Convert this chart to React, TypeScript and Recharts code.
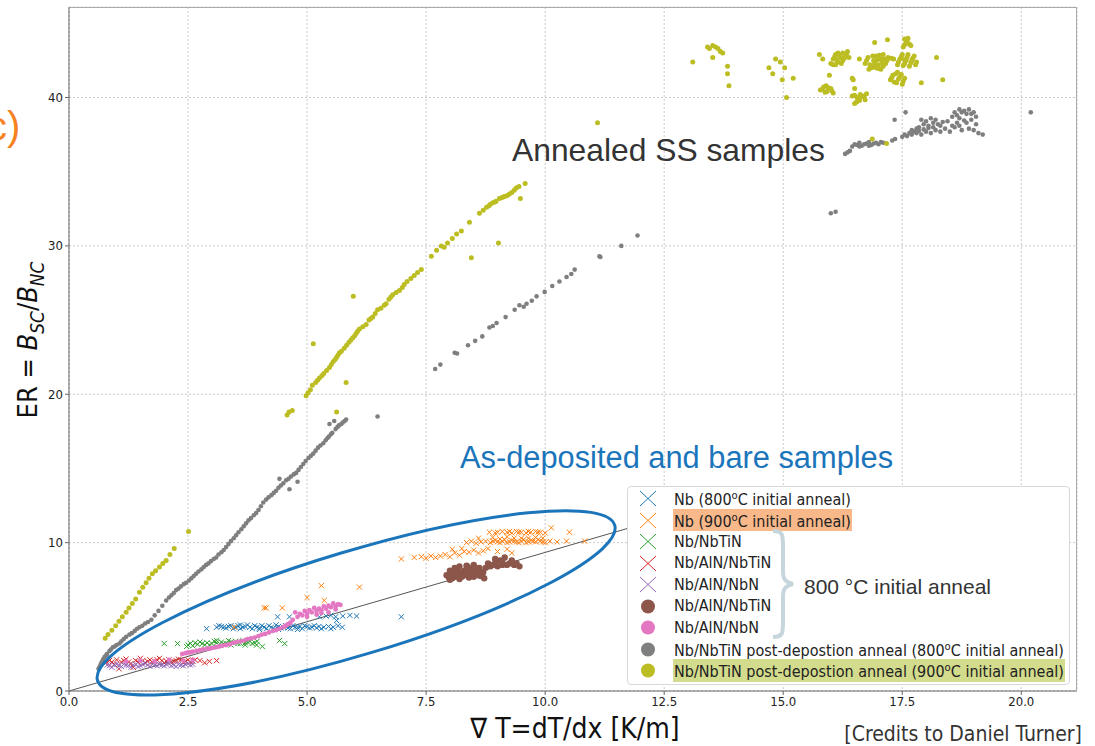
import {
  ScatterChart,
  Scatter,
  XAxis,
  YAxis,
  CartesianGrid,
  ReferenceLine,
} from 'recharts'

type Pt = [number, number]

// values (x = dT/dx, y = ER)
const nb800: Pt[] = [
  [2.89, 4.2], [3.1, 4.3], [3.15, 4.4], [3.2, 4.35], [3.25, 4.3], [3.3, 4.25], [3.35, 4.35], [3.4, 4.4],
  [3.45, 4.2], [3.5, 4.3], [3.55, 4.4], [3.6, 4.2], [3.6, 4.45], [3.65, 4.3], [3.7, 4.35], [3.75, 4.45],
  [3.8, 4.3], [3.85, 4.2], [3.9, 4.4], [3.95, 4.3], [4.0, 4.25], [4.0, 4.15], [4.05, 4.4], [4.1, 4.3],
  [4.15, 4.2], [4.2, 4.4], [4.25, 4.3], [4.3, 4.2], [4.35, 4.45], [4.4, 4.35], [4.4, 4.15], [4.45, 4.25],
  [4.5, 4.3], [4.55, 4.4], [4.6, 4.25], [4.65, 4.2], [4.7, 4.4], [4.75, 4.3], [4.8, 4.3], [4.8, 4.15],
  [4.85, 4.35], [4.9, 4.2], [4.95, 4.4], [5.0, 4.35], [5.05, 4.25], [5.1, 4.3], [5.15, 4.4], [5.2, 4.25],
  [5.25, 4.35], [5.3, 4.2], [5.35, 4.3], [5.45, 4.35], [5.5, 4.2], [5.55, 4.3], [5.65, 4.4],
  [5.62, 4.75], [5.74, 4.3], [4.38, 5.0], [4.63, 5.0], [5.26, 5.0], [5.4, 5.05], [5.5, 5.1], [5.6, 5.0],
  [5.75, 5.05], [5.9, 5.1], [6.04, 5.05], [6.98, 5.0],
]
const nb900: Pt[] = [
  [8.83, 10.7], [8.95, 10.65], [9.0, 10.7], [9.1, 10.75], [9.2, 10.7], [9.25, 10.75], [9.3, 10.65],
  [9.4, 10.75], [9.45, 10.7], [9.5, 10.7], [9.6, 10.65], [9.65, 10.75], [9.7, 10.7], [9.8, 10.75],
  [9.85, 10.7], [9.9, 10.7], [10.0, 10.65], [10.13, 11.0], [10.51, 10.7],
  [8.35, 10.0], [8.45, 10.1], [8.55, 9.95], [8.65, 10.05], [8.75, 10.1], [8.85, 10.0], [8.9, 10.1],
  [8.95, 10.15], [9.0, 10.05], [9.05, 10.0], [9.1, 10.1], [9.15, 10.2], [9.2, 10.0], [9.25, 10.05],
  [9.3, 10.15], [9.35, 10.1], [9.4, 10.05], [9.45, 10.0], [9.5, 10.1], [9.55, 10.2], [9.6, 10.0],
  [9.65, 10.05], [9.7, 10.15], [9.75, 10.1], [9.8, 10.05], [9.85, 10.2], [9.9, 10.1], [9.95, 10.05],
  [10.0, 10.0], [10.1, 10.1], [10.25, 10.05], [10.45, 10.1], [10.83, 10.1],
  [8.6, 10.3], [8.9, 10.35], [9.05, 10.25], [9.2, 10.4], [9.35, 10.3], [9.5, 10.3], [9.65, 10.3],
  [9.8, 10.35], [9.95, 10.3],
  [6.98, 8.9], [7.25, 9.0], [7.4, 9.05], [7.5, 8.95], [7.6, 9.1], [7.7, 9.0], [7.8, 9.1], [7.9, 9.2],
  [8.0, 9.05], [8.05, 9.55], [8.1, 9.3], [8.2, 9.15], [8.25, 9.6], [8.3, 9.4], [8.4, 9.35], [8.5, 9.5],
  [8.6, 9.3], [8.7, 9.45], [8.8, 9.6], [9.0, 9.4], [9.2, 9.55], [9.3, 9.3],
  [3.47, 4.3], [4.1, 5.6], [4.14, 5.6], [4.48, 5.6], [5.0, 6.3], [5.36, 6.1], [5.3, 7.1], [6.1, 7.0],
]
const nbNbTiN: Pt[] = [
  [2.0, 3.2], [2.28, 3.2], [2.47, 3.0], [2.5, 3.1], [2.55, 3.2], [2.6, 3.05], [2.65, 3.25], [2.7, 3.15],
  [2.75, 3.3], [2.8, 3.2], [2.85, 3.1], [2.9, 3.25], [2.95, 3.1], [3.0, 3.2], [3.05, 3.35], [3.1, 3.25],
  [3.1, 3.4], [3.15, 3.1], [3.2, 3.3], [3.25, 3.2], [3.3, 3.2], [3.35, 3.4], [3.4, 3.3], [3.4, 3.1],
  [3.45, 3.25], [3.5, 3.35], [3.55, 3.2], [3.6, 3.2], [3.65, 3.4], [3.7, 3.25], [3.7, 3.1], [3.75, 3.3],
  [3.8, 3.35], [3.85, 3.2], [3.9, 3.25], [3.94, 3.1], [3.95, 3.35], [4.06, 3.0], [4.42, 3.4], [4.53, 3.2],
]
const nbAlnNbTiN: Pt[] = [
  [0.78, 1.9], [0.85, 2.05], [0.9, 1.95], [0.95, 1.8], [1.0, 2.1], [1.05, 1.5], [1.1, 1.95], [1.15, 2.05],
  [1.2, 2.15], [1.25, 1.95], [1.3, 1.85], [1.35, 1.6], [1.4, 2.05], [1.45, 1.95], [1.5, 2.2], [1.55, 2.05],
  [1.6, 1.9], [1.65, 2.0], [1.7, 2.1], [1.75, 1.95], [1.8, 2.0], [1.85, 2.1], [1.9, 2.2], [1.95, 2.05],
  [2.0, 1.9], [2.05, 2.0], [2.1, 2.1], [2.15, 1.95], [2.2, 2.0], [2.25, 2.05], [2.3, 2.15], [2.35, 2.1],
  [2.4, 1.95], [2.45, 2.0], [2.5, 2.1], [2.55, 1.95], [2.6, 2.0], [2.65, 2.1], [2.75, 2.05], [2.85, 1.9],
  [2.95, 2.0], [3.1, 2.05],
]
const nbAlnNbN: Pt[] = [
  [0.8, 1.75], [0.85, 1.7], [0.9, 1.6], [0.95, 1.75], [1.0, 1.8], [1.05, 1.7], [1.1, 1.65], [1.15, 1.8],
  [1.2, 1.75], [1.25, 1.7], [1.3, 1.6], [1.35, 1.75], [1.4, 1.8], [1.45, 1.65], [1.5, 1.7], [1.55, 1.8],
  [1.6, 1.85], [1.65, 1.75], [1.7, 1.65], [1.75, 1.8], [1.8, 1.75], [1.85, 1.7], [1.9, 1.8], [1.95, 1.75],
  [2.0, 1.7], [2.05, 1.8], [2.1, 1.85], [2.15, 1.7], [2.2, 1.75], [2.25, 1.65], [2.3, 1.8], [2.35, 1.75],
  [2.4, 1.7], [2.45, 1.8], [2.5, 1.85], [2.55, 1.75], [2.6, 1.8],
]
const nbAlnNbTiNDot: Pt[] = [
  [7.93, 7.8], [7.98, 7.65], [8.0, 8.1], [8.0, 7.5], [8.05, 7.6], [8.05, 7.95], [8.1, 8.3], [8.1, 7.7],
  [8.12, 8.05], [8.15, 7.9], [8.15, 8.2], [8.2, 8.4], [8.2, 7.55], [8.25, 7.7], [8.25, 8.0], [8.3, 8.1],
  [8.3, 7.8], [8.35, 8.45], [8.35, 8.2], [8.38, 8.35], [8.4, 7.9], [8.4, 7.65], [8.45, 8.2], [8.45, 7.95],
  [8.5, 8.5], [8.5, 7.7], [8.55, 8.0], [8.55, 8.3], [8.6, 7.8], [8.6, 8.05], [8.62, 8.3], [8.65, 7.75],
  [8.7, 8.0], [8.72, 7.6], [8.75, 8.3], [8.8, 8.6], [8.85, 8.4], [8.9, 8.5], [8.95, 8.9], [8.95, 8.6],
  [9.0, 8.4], [9.05, 8.8], [9.1, 8.7], [9.1, 8.5], [9.15, 9.0], [9.2, 8.5], [9.25, 8.6], [9.3, 8.8],
  [9.35, 8.5], [9.4, 8.6], [9.46, 8.4],
]
const nbAlnNbNDot: Pt[] = [
  [1.2, 2.0], [1.5, 2.05], [1.8, 2.0], [2.1, 2.1], [2.4, 2.05], [2.6, 2.1],
  [2.38, 2.5], [2.45, 2.55], [2.5, 2.6], [2.55, 2.6], [2.6, 2.65], [2.68, 2.7], [2.75, 2.75], [2.82, 2.8],
  [2.9, 2.85], [2.95, 2.85], [3.0, 2.9], [3.08, 2.95], [3.15, 3.0], [3.22, 3.05], [3.3, 3.1], [3.38, 3.15],
  [3.45, 3.25], [3.52, 3.3], [3.6, 3.35], [3.68, 3.4], [3.75, 3.5], [3.82, 3.55], [3.9, 3.6], [3.98, 3.7],
  [4.05, 3.8], [4.12, 3.85], [4.2, 3.95], [4.28, 4.05], [4.35, 4.1], [4.42, 4.2], [4.5, 4.3], [4.55, 4.4],
  [4.6, 4.5], [4.65, 4.6], [4.7, 4.8], [4.75, 5.3], [4.8, 5.0], [4.85, 5.2], [4.9, 5.1], [4.95, 5.4],
  [5.0, 5.2], [5.0, 5.0], [5.05, 5.45], [5.1, 5.3], [5.15, 5.6], [5.2, 5.4], [5.2, 5.15], [5.25, 5.55],
  [5.3, 5.45], [5.3, 5.25], [5.35, 5.7], [5.4, 5.55], [5.45, 5.3], [5.45, 5.75], [5.5, 5.65], [5.55, 5.9],
  [5.6, 5.7], [5.6, 5.5], [5.65, 5.85], [5.7, 5.8],
]
const post800: Pt[] = [
  [0.62, 1.5], [0.64, 1.6], [0.66, 1.75], [0.68, 1.9], [0.7, 2.0], [0.72, 2.15], [0.75, 2.3], [0.78, 2.4],
  [0.8, 2.5], [0.85, 2.7], [0.88, 2.8], [0.92, 2.95], [0.96, 3.0], [1.0, 3.1], [1.06, 3.2], [1.1, 3.35],
  [1.15, 3.5], [1.2, 3.65], [1.27, 3.8], [1.32, 3.9], [1.38, 4.05], [1.43, 4.2], [1.48, 4.3], [1.54, 4.4],
  [1.6, 4.55], [1.66, 4.65], [1.73, 4.8], [1.8, 5.1], [1.88, 5.4], [1.96, 5.75], [2.04, 6.1], [2.1, 6.3],
  [2.15, 6.45], [2.2, 6.6], [2.25, 6.8], [2.3, 6.9], [2.35, 7.05], [2.41, 7.2], [2.46, 7.3], [2.52, 7.45],
  [2.57, 7.6], [2.62, 7.75], [2.67, 7.9], [2.72, 8.05], [2.78, 8.2], [2.83, 8.35], [2.88, 8.5], [2.93, 8.6],
  [2.98, 8.75], [3.04, 8.9], [3.09, 9.0], [3.14, 9.2], [3.2, 9.35], [3.25, 9.5], [3.3, 9.7], [3.35, 9.9],
  [3.4, 10.1], [3.46, 10.3], [3.51, 10.5], [3.56, 10.7], [3.62, 10.9], [3.67, 11.1], [3.72, 11.3],
  [3.77, 11.5], [3.82, 11.65], [3.88, 11.85], [3.93, 12.0], [3.98, 12.2], [4.03, 12.45], [4.08, 12.7],
  [4.14, 12.9], [4.19, 13.05], [4.25, 13.2], [4.3, 13.35], [4.35, 13.5], [4.4, 13.7], [4.45, 13.85],
  [4.5, 14.0], [4.56, 14.2], [4.61, 14.3], [4.66, 14.45], [4.72, 14.6], [4.77, 14.7], [4.82, 14.9],
  [4.87, 15.1], [4.92, 15.3], [4.97, 15.5], [5.03, 15.7], [5.08, 15.85], [5.13, 16.0], [5.18, 16.2],
  [5.23, 16.4], [5.28, 16.55], [5.34, 16.7], [5.39, 16.9], [5.43, 17.05], [5.46, 17.15], [5.5, 17.3],
  [5.53, 17.4], [5.6, 17.65], [5.64, 17.8], [5.67, 17.9], [5.72, 18.0], [5.75, 18.1], [5.79, 18.2],
  [5.82, 18.3], [4.42, 14.3], [4.63, 13.6], [4.8, 14.1], [5.47, 18.0], [5.57, 18.2], [6.48, 18.5],
  [7.69, 21.7], [7.8, 22.0], [8.1, 22.8], [8.15, 22.75], [8.38, 23.3], [8.53, 23.6], [8.68, 23.9],
  [8.83, 24.5], [8.9, 24.6], [8.98, 24.8], [9.17, 25.2], [9.36, 25.7], [9.46, 26.0], [9.55, 25.9],
  [9.61, 26.1], [9.72, 26.3], [9.82, 26.6], [9.99, 26.9], [10.15, 27.3], [10.3, 27.6], [10.45, 27.9],
  [10.55, 28.1], [10.62, 28.4], [11.14, 29.3], [11.16, 29.25], [11.6, 30.0], [11.94, 30.7],
  [16.0, 32.2], [16.1, 32.3], [16.3, 36.2], [16.35, 36.3], [16.4, 36.4], [16.45, 36.7], [16.5, 36.85],
  [16.55, 36.8], [16.6, 36.95], [16.6, 36.7], [16.65, 36.75], [16.7, 36.85], [16.75, 36.9], [16.8, 37.0],
  [16.8, 36.75], [16.85, 36.8], [16.9, 36.9], [16.95, 36.95], [17.0, 36.85], [17.05, 37.0], [17.1, 36.95],
  [17.29, 37.1], [17.35, 37.2], [17.34, 38.5], [17.57, 39.0],
  [17.5, 37.35], [17.55, 37.5], [17.6, 37.4], [17.65, 37.6], [17.7, 37.5], [17.7, 37.8], [17.75, 37.7],
  [17.8, 37.6], [17.8, 37.9], [17.85, 38.0], [17.85, 37.75], [17.9, 37.5], [17.9, 38.5], [17.95, 38.2],
  [17.95, 37.85], [18.0, 37.7], [18.0, 38.4], [18.05, 37.95], [18.05, 38.1], [18.1, 37.6], [18.1, 38.6],
  [18.15, 38.3], [18.15, 38.0], [18.2, 37.8], [18.2, 38.5], [18.25, 38.2], [18.3, 37.7], [18.3, 38.1],
  [18.35, 38.35], [18.4, 37.9],
  [18.45, 38.4], [18.5, 37.7], [18.55, 38.7], [18.55, 38.1], [18.6, 39.0], [18.6, 38.0], [18.65, 38.8],
  [18.65, 38.3], [18.7, 39.2], [18.7, 38.6], [18.7, 38.1], [18.75, 37.8], [18.75, 39.0], [18.8, 39.1],
  [18.8, 38.45], [18.85, 38.3], [18.85, 38.9], [18.9, 39.2], [18.9, 37.9], [18.95, 38.5], [18.95, 38.9],
  [19.0, 39.0], [19.0, 37.8], [19.05, 38.7], [19.05, 38.2], [19.1, 37.6], [19.19, 37.5], [20.2, 39.0],
]
const post900: Pt[] = [
  [0.76, 3.55], [0.82, 3.8], [0.9, 4.1], [0.98, 4.4], [1.05, 4.7], [1.12, 5.0], [1.2, 5.3], [1.26, 5.6],
  [1.33, 5.9], [1.4, 6.2], [1.48, 6.65], [1.55, 7.0], [1.62, 7.3], [1.68, 7.6], [1.75, 7.9], [1.82, 8.1],
  [1.9, 8.35], [1.97, 8.6], [2.04, 8.8], [2.12, 9.2], [2.21, 9.6], [2.51, 10.75],
  [4.58, 18.6], [4.62, 18.8], [4.69, 18.9], [4.98, 19.9], [5.02, 20.1], [5.07, 20.3], [5.11, 20.6],
  [5.18, 20.8], [5.22, 20.95], [5.26, 21.1], [5.31, 21.25], [5.35, 21.4], [5.41, 21.6], [5.47, 21.8],
  [5.51, 22.0], [5.55, 22.2], [5.59, 22.35], [5.62, 22.5], [5.65, 22.65], [5.68, 22.8], [5.72, 22.9],
  [5.78, 23.1], [5.83, 23.3], [5.88, 23.5], [5.92, 23.65], [5.96, 23.8], [6.0, 23.95], [6.03, 24.1],
  [6.06, 24.25], [6.1, 24.4], [6.17, 24.55], [6.24, 24.7], [6.3, 25.0], [6.34, 25.1], [6.38, 25.2],
  [6.43, 25.45], [6.48, 25.7], [6.55, 25.8], [6.62, 26.0], [6.66, 26.1], [6.72, 26.4], [6.76, 26.55],
  [6.8, 26.7], [6.87, 26.85], [6.94, 27.0], [7.0, 27.2], [7.04, 27.4], [7.1, 27.6], [7.18, 27.8],
  [7.25, 28.0], [7.32, 28.2], [7.4, 28.4], [7.61, 29.3], [7.72, 29.7], [7.82, 30.0], [7.88, 29.9],
  [7.95, 30.2], [8.05, 30.5], [8.14, 30.8], [8.24, 31.0], [8.41, 31.6], [8.62, 32.2], [8.7, 32.4],
  [8.77, 32.6], [8.82, 32.7], [8.85, 32.8], [8.9, 32.9], [8.94, 32.95], [8.97, 33.0], [9.04, 33.2],
  [9.08, 33.25], [9.12, 33.3], [9.16, 33.35], [9.21, 33.4], [9.25, 33.5], [9.3, 33.6], [9.35, 33.75],
  [9.39, 33.9], [9.45, 34.0], [9.58, 34.2],
  [5.13, 23.4], [5.82, 20.8], [5.97, 26.6], [8.45, 29.2], [9.02, 30.2], [9.48, 33.2], [5.62, 18.8],
  [11.1, 38.3], [13.1, 42.4], [13.41, 43.4], [13.45, 43.3], [13.52, 43.5], [13.58, 43.4], [13.63, 43.3],
  [13.68, 43.1], [13.73, 43.0], [13.52, 42.7], [13.83, 42.1], [13.83, 41.6], [13.86, 40.8],
  [14.7, 42.0], [14.84, 42.6], [14.94, 42.4], [15.03, 42.0], [14.78, 41.6], [14.98, 41.2], [15.21, 41.3],
  [15.07, 40.0], [15.76, 42.9], [15.83, 42.6],
  [16.0, 42.3], [16.05, 42.6], [16.05, 42.2], [16.08, 42.75], [16.1, 42.9], [16.12, 42.55], [16.15, 42.4],
  [16.15, 43.0], [16.18, 42.85], [16.2, 42.7], [16.22, 42.3], [16.25, 43.0], [16.28, 42.65], [16.3, 42.8],
  [16.33, 42.95], [16.35, 43.1], [16.38, 42.7], [16.1, 42.2], [16.25, 42.5],
  [15.97, 41.5], [16.45, 41.3], [16.47, 41.2],
  [15.78, 40.5], [15.82, 40.55], [15.85, 40.7], [15.88, 40.35], [15.92, 40.4], [15.95, 40.65], [16.0, 40.6],
  [16.02, 40.45], [16.05, 40.3], [15.9, 40.8], [16.5, 40.6],
  [16.45, 40.1], [16.5, 40.15], [16.55, 40.0], [16.58, 39.9], [16.6, 39.8], [16.62, 40.2], [16.65, 40.05],
  [16.7, 40.1], [16.72, 39.85], [16.75, 40.25], [16.54, 39.7], [16.5, 39.6],
  [16.6, 42.6], [16.72, 42.3], [16.75, 42.5], [16.78, 42.7], [16.82, 42.2], [16.85, 42.0], [16.88, 42.8],
  [16.88, 42.05], [16.9, 42.5], [16.92, 42.3], [16.95, 42.8], [16.98, 42.55], [17.0, 42.2], [17.0, 41.95],
  [17.02, 42.85], [17.05, 42.6], [17.08, 42.35], [17.1, 42.9], [17.1, 42.1], [17.12, 42.6], [17.15, 42.3],
  [17.18, 42.5], [17.2, 42.7], [16.8, 41.9], [16.95, 42.0], [17.05, 41.9],
  [16.92, 43.7], [17.19, 43.9], [17.27, 42.65], [17.32, 42.6],
  [17.25, 41.2], [17.28, 41.35], [17.3, 41.5], [17.33, 41.05], [17.36, 41.6], [17.38, 41.0], [17.42, 41.25],
  [17.45, 41.4], [17.48, 41.55], [17.5, 40.9], [17.52, 41.1], [17.55, 41.3], [17.4, 41.7],
  [17.4, 42.2], [17.42, 42.4], [17.45, 42.6], [17.48, 42.75], [17.5, 42.9], [17.52, 42.15], [17.55, 42.3],
  [17.55, 42.55], [17.58, 42.5], [17.6, 42.7], [17.62, 42.9], [17.65, 42.1], [17.68, 42.35], [17.7, 42.5],
  [17.72, 42.65], [17.75, 42.8], [17.78, 42.2], [17.8, 42.4],
  [17.52, 43.4], [17.55, 43.55], [17.55, 43.95], [17.58, 43.7], [17.6, 43.85], [17.62, 44.0], [17.65, 43.6],
  [17.68, 43.5],
  [18.22, 42.7], [17.9, 41.0], [18.35, 41.2], [16.87, 37.2], [17.17, 36.9],
]

// reference line through the origin, and the hand-drawn ellipse centre
const guideLine: Pt[] = [[0, 0], [12.6, 11.77]]
const ellipseCentre: Pt[] = [[6.03, 5.94]]

const xTicks = [0, 2.5, 5, 7.5, 10, 12.5, 15, 17.5, 20]
const yTicks = [0, 10, 20, 30, 40]

const toPts = (a: Pt[]) => a.map(([x, y]) => ({ x, y }))

const BLUE   = '#1f77b4'
const ORANGE = '#ff7f0e'
const GREEN  = '#2ca02c'
const RED    = '#d62728'
const PURPLE = '#9467bd'
const BROWN  = '#8c564b'
const PINK   = '#e377c2'
const GRAY   = '#7f7f7f'
const OLIVE  = '#bcbd22'

const NARROW = "'Liberation Sans Narrow', 'DejaVu Sans Condensed', sans-serif"
const ARIAL  = "'Liberation Sans', Arial, sans-serif"
const TICKFONT = "'DejaVu Sans Condensed', 'DejaVu Sans', sans-serif"

const crossShape = (color: string) => (p: any) => {
  const { cx, cy } = p
  const s = 2.6
  return (
    <path
      d={`M${cx - s},${cy - s}L${cx + s},${cy + s}M${cx - s},${cy + s}L${cx + s},${cy - s}`}
      stroke={color}
      strokeWidth={1}
      fill="none"
    />
  )
}

const dotShape = (color: string, r = 2.2) => (p: any) => (
  <circle cx={p.cx} cy={p.cy} r={r} fill={color} />
)

const ellipseShape = (p: any) => (
  <ellipse
    cx={p.cx}
    cy={p.cy}
    rx={270}
    ry={52}
    transform={`rotate(-16.7 ${p.cx} ${p.cy})`}
    fill="none"
    stroke="#1b75bb"
    strokeWidth={3}
  />
)

type Entry = { label: React.ReactNode; color: string; kind: 'x' | 'o'; hl?: string }

const sup = (t: string) => <sup style={{ fontSize: '0.7em' }}>{t}</sup>

const legendItems: Entry[] = [
  { label: <>Nb (800{sup('o')}C initial anneal)</>, color: BLUE, kind: 'x' },
  { label: <>Nb (900{sup('o')}C initial anneal)</>, color: ORANGE, kind: 'x', hl: '#f9b88a' },
  { label: 'Nb/NbTiN', color: GREEN, kind: 'x' },
  { label: 'Nb/AlN/NbTiN', color: RED, kind: 'x' },
  { label: 'Nb/AlN/NbN', color: PURPLE, kind: 'x' },
  { label: 'Nb/AlN/NbTiN', color: BROWN, kind: 'o' },
  { label: 'Nb/AlN/NbN', color: PINK, kind: 'o' },
  { label: <>Nb/NbTiN post-depostion anneal (800{sup('o')}C initial anneal)</>, color: GRAY, kind: 'o' },
  { label: <>Nb/NbTiN post-depostion anneal (900{sup('o')}C initial anneal)</>, color: OLIVE, kind: 'o', hl: '#d3db8c' },
]

function LegendBox() {
  return (
    <div style={{
      position: 'absolute', left: 627, top: 486, width: 443, height: 199,
      background: '#fff', border: '1px solid #d8d8d8', borderRadius: 4, boxSizing: 'border-box',
    }}>
      {legendItems.map((it, i) => (
        <div key={i} style={{
          position: 'absolute', left: 0, top: 1 + i * 21.5, height: 21, width: '100%',
          display: 'flex', alignItems: 'center',
        }}>
          <svg width={40} height={21} style={{ flex: 'none' }}>
            {it.kind === 'x'
              ? <path d="M12,3L28,18M12,18L28,3" stroke={it.color} strokeWidth={1} fill="none" />
              : <circle cx={20} cy={10.5} r={7} fill={it.color} />}
          </svg>
          <span style={{
            marginLeft: 5, fontFamily: TICKFONT,
            fontSize: 16, color: '#222', whiteSpace: 'nowrap', lineHeight: '18px',
            background: it.hl ?? 'transparent', padding: '0 1px',
          }}>
            {it.label}
          </span>
        </div>
      ))}
      <svg style={{ position: 'absolute', left: 140, top: 40, overflow: 'visible' }} width={30} height={115}>
        <path
          d="M5,4 C15,4 15,8 15,20 L15,44 C15,52 17,55 25,57 C17,59 15,62 15,70 L15,94 C15,106 15,110 5,110"
          fill="none" stroke="#c6d6dc" strokeWidth={4}
        />
      </svg>
      <div style={{
        position: 'absolute', left: 176, top: 88, fontFamily: ARIAL, fontSize: 21, color: '#333',
        whiteSpace: 'nowrap',
      }}>
        800 °C initial anneal
      </div>
    </div>
  )
}

export default function App() {
  return (
    <div style={{ position: 'absolute', left: 0, top: 0, width: 1095, height: 746, background: '#fff', overflow: 'hidden' }}>
      <ScatterChart width={1095} height={746} margin={{ top: 7, right: 18, bottom: 30, left: 39 }}>
        <CartesianGrid stroke="#c8c8c8" strokeDasharray="2 2" />
        <XAxis
          type="number"
          dataKey="x"
          domain={[0, 21.17]}
          ticks={xTicks}
          tickFormatter={(v: number) => v.toFixed(1)}
          tick={{ fill: '#222', fontSize: 13, fontFamily: TICKFONT }}
          tickSize={4}
          axisLine={{ stroke: '#666' }}
          tickLine={{ stroke: '#666' }}
          height={25}
        />
        <YAxis
          type="number"
          dataKey="y"
          domain={[0, 46.1]}
          ticks={yTicks}
          tick={{ fill: '#222', fontSize: 13, fontFamily: TICKFONT }}
          tickSize={4}
          axisLine={{ stroke: '#666' }}
          tickLine={{ stroke: '#666' }}
          width={30}
        />
        <Scatter data={toPts(nb800)} shape={crossShape(BLUE)} isAnimationActive={false} />
        <Scatter data={toPts(nb900)} shape={crossShape(ORANGE)} isAnimationActive={false} />
        <Scatter data={toPts(nbNbTiN)} shape={crossShape(GREEN)} isAnimationActive={false} />
        <Scatter data={toPts(nbAlnNbTiN)} shape={crossShape(RED)} isAnimationActive={false} />
        <Scatter data={toPts(nbAlnNbN)} shape={crossShape(PURPLE)} isAnimationActive={false} />
        <Scatter data={toPts(nbAlnNbTiNDot)} shape={dotShape(BROWN, 3.2)} isAnimationActive={false} />
        <Scatter data={toPts(nbAlnNbNDot)} shape={dotShape(PINK, 2.4)} isAnimationActive={false} />
        <Scatter data={toPts(post800)} shape={dotShape(GRAY, 2.3)} isAnimationActive={false} />
        <Scatter data={toPts(post900)} shape={dotShape(OLIVE, 2.5)} isAnimationActive={false} />
        <ReferenceLine
          segment={toPts(guideLine)}
          stroke="#555"
          strokeWidth={1}
          ifOverflow="visible"
        />
        <Scatter data={toPts(ellipseCentre)} shape={ellipseShape} isAnimationActive={false} />
      </ScatterChart>

      {/* top / right frame */}
      <div style={{
        position: 'absolute', left: 69, top: 7, width: 1008, height: 684,
        borderTop: '1px solid #aaa', borderRight: '1px solid #aaa', boxSizing: 'border-box', pointerEvents: 'none',
      }} />

      <LegendBox />

      <div style={{ position: 'absolute', left: -13, top: 104, fontFamily: ARIAL, fontSize: 40, color: '#f5821f' }}>
        c)
      </div>

      <div style={{
        position: 'absolute', left: 30, top: 340, transform: 'translate(-50%, -50%) rotate(-90deg)',
        fontFamily: NARROW, fontSize: 27, color: '#111', whiteSpace: 'nowrap',
      }}>
        ER = <i>B</i><sub style={{ fontSize: '0.7em', fontStyle: 'italic' }}>SC</sub>/<i>B</i>
        <sub style={{ fontSize: '0.7em', fontStyle: 'italic' }}>NC</sub>
      </div>

      <div style={{
        position: 'absolute', left: 575, top: 728, transform: 'translate(-50%, -50%)',
        fontFamily: NARROW, fontSize: 28, color: '#111', whiteSpace: 'nowrap',
      }}>
        ∇ T=dT/dx [K/m]
      </div>

      <div style={{
        position: 'absolute', left: 512, top: 132, fontFamily: ARIAL, fontSize: 31.8, color: '#333',
        whiteSpace: 'nowrap',
      }}>
        Annealed SS samples
      </div>

      <div style={{
        position: 'absolute', left: 460, top: 440, fontFamily: ARIAL, fontSize: 30.8, color: '#1b75bb',
        whiteSpace: 'nowrap',
      }}>
        As-deposited and bare samples
      </div>

      <div style={{
        position: 'absolute', right: 13, top: 722, fontFamily: NARROW, fontSize: 21, color: '#333',
        whiteSpace: 'nowrap',
      }}>
        [Credits to Daniel Turner]
      </div>
    </div>
  )
}
